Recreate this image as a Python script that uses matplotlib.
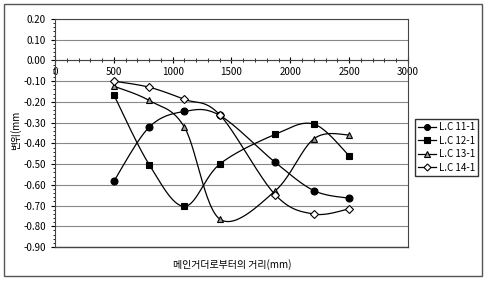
import matplotlib.pyplot as plt
import numpy as np
from matplotlib.patches import Rectangle
from matplotlib.ticker import MultipleLocator

plt.rcParams['font.family'] = ['Noto Sans CJK KR', 'DejaVu Sans']

distance = [500, 800, 1100, 1400, 1870, 2200, 2500]
lc_11 = [-0.583, -0.322, -0.246, -0.265, -0.491, -0.628, -0.665]
lc_12 = [-0.166, -0.502, -0.704, -0.500, -0.357, -0.307, -0.460]
lc_13 = [-0.124, -0.193, -0.322, -0.765, -0.630, -0.378, -0.359]
lc_14 = [-0.100, -0.129, -0.188, -0.262, -0.647, -0.741, -0.716]
labels = ['L.C 11-1', 'L.C 12-1', 'L.C 13-1', 'L.C 14-1']


def smooth(x, y, n=30):
    # excel-like smoothed line (catmull-rom as bezier)
    p = np.column_stack([x, y]).astype(float)
    out = []
    for i in range(len(p) - 1):
        p0 = p[i - 1] if i > 0 else p[i]
        p3 = p[i + 2] if i + 2 < len(p) else p[i + 1]
        c1 = p[i] + (p[i + 1] - p0) / 6
        c2 = p[i + 1] - (p3 - p[i]) / 6
        t = np.linspace(0, 1, n)[:, None]
        seg = ((1 - t) ** 3 * p[i] + 3 * (1 - t) ** 2 * t * c1
               + 3 * (1 - t) * t ** 2 * c2 + t ** 3 * p[i + 1])
        out.append(seg if i == 0 else seg[1:])
    out = np.vstack(out)
    return out[:, 0], out[:, 1]


fig = plt.figure(figsize=(4.89, 2.83), dpi=100)
fig.patches.append(Rectangle((0.008, 0.025), 0.978, 0.962, transform=fig.transFigure,
                             fill=False, edgecolor='#555555', lw=1.0))
ax = fig.add_axes([55 / 489, 1 - 247 / 283, 353 / 489, 228 / 283])

styles = [dict(marker='o', mfc='black'),
          dict(marker='s', mfc='black'),
          dict(marker='^', mfc='#999999'),
          dict(marker='D', mfc='white', markersize=4.2)]
handles = []
for ys, st, lab in zip([lc_11, lc_12, lc_13, lc_14], styles, labels):
    sx, sy = smooth(distance, ys)
    ax.plot(sx, sy, color='black', lw=0.9, zorder=3)
    kw = dict(markersize=5, mec='black', mew=0.8)
    kw.update(st)
    ax.plot(distance, ys, ls='none', zorder=4, **kw)
    kw['markersize'] = kw['markersize'] * 0.85
    h, = ax.plot([], [], color='black', lw=0.9, **kw)
    handles.append(h)

ax.set_xlim(0, 3000)
ax.set_ylim(-0.9, 0.2)
ax.yaxis.set_major_locator(MultipleLocator(0.1))
ax.yaxis.set_minor_locator(MultipleLocator(0.02))
ax.xaxis.set_major_locator(MultipleLocator(500))
ax.xaxis.set_minor_locator(MultipleLocator(100))
ax.set_yticklabels([f'{v:.2f}' for v in ax.get_yticks()])
ax.grid(axis='y', color='#888888', lw=0.8)
ax.set_axisbelow(True)
ax.axhline(-0.9, color='#444444', lw=1.0, clip_on=False)

ax.spines['bottom'].set_position(('data', 0))
for s in ax.spines.values():
    s.set_color('#444444')
    s.set_linewidth(0.8)
ax.tick_params(axis='x', which='both', direction='inout', labelsize=7, pad=2)
ax.tick_params(axis='x', which='major', length=5)
ax.tick_params(axis='x', which='minor', length=3)
ax.tick_params(axis='y', which='major', direction='out', length=3, labelsize=7)
ax.tick_params(axis='y', which='minor', direction='out', length=1.5)

fig.text(232 / 489, 1 - 265 / 283, '메인거더로부터의 거리(mm)', fontsize=7.2,
         ha='center', va='center')
fig.text(16 / 489, 1 - 130 / 283, '변위(mm', fontsize=7, rotation=90,
         ha='center', va='center')

fig.legend(handles, labels, loc='upper left', bbox_to_anchor=(415 / 489, 1 - 119 / 283),
           fontsize=7, frameon=True, fancybox=False, edgecolor='black',
           handlelength=1.8, handletextpad=0.3, borderpad=0.35, labelspacing=0.35,
           borderaxespad=0)

plt.savefig('out.png', dpi=100)
